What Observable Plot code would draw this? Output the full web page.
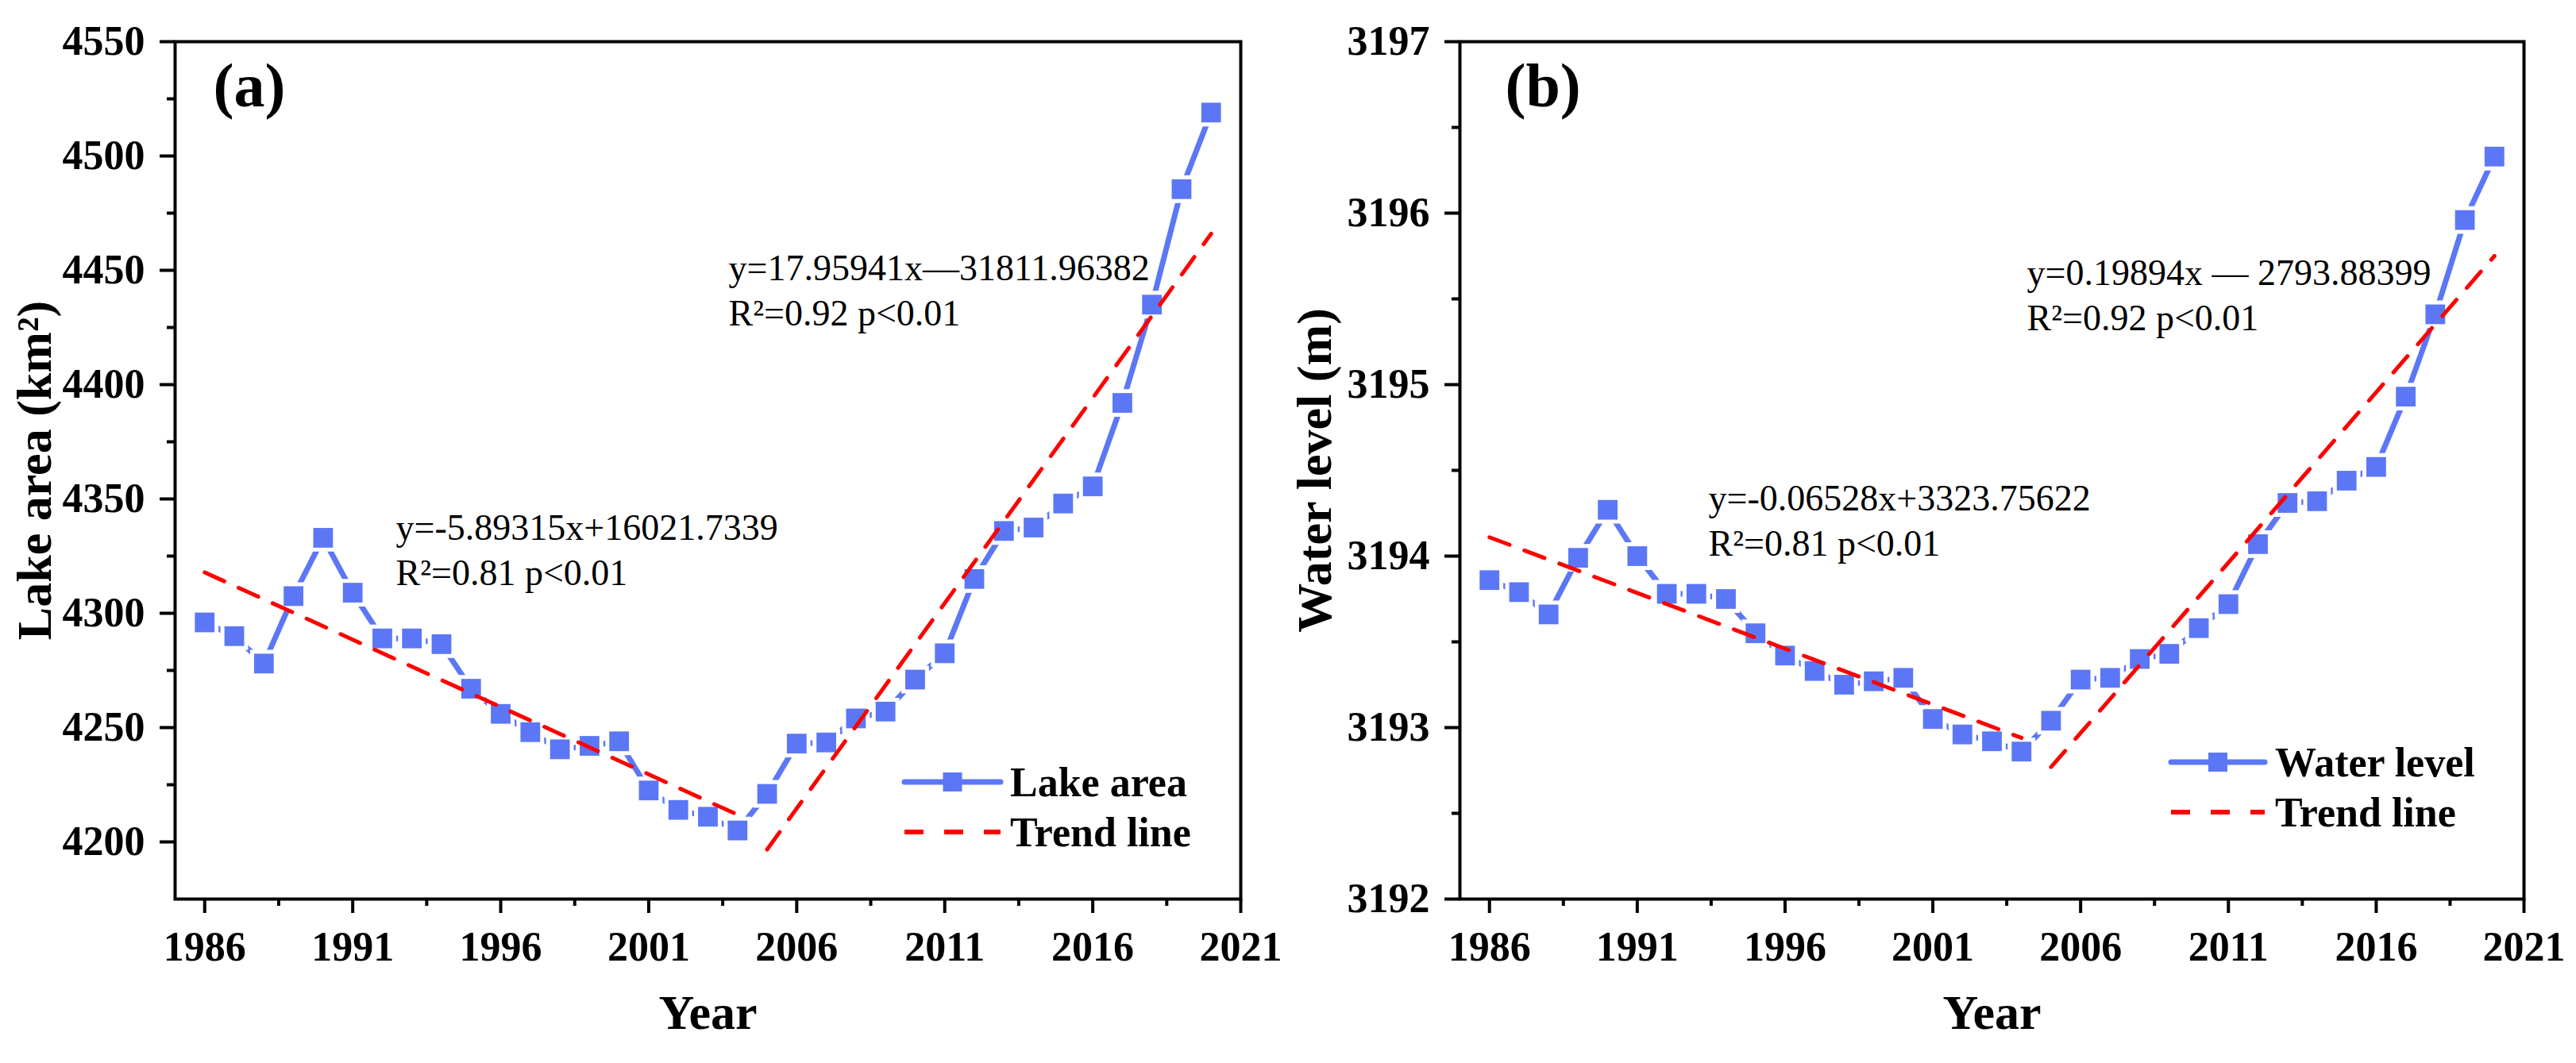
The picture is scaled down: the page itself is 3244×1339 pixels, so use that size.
<!DOCTYPE html>
<html>
<head>
<meta charset="utf-8">
<script src="https://cdn.jsdelivr.net/npm/d3@7"></script>
<script src="https://cdn.jsdelivr.net/npm/@observablehq/plot@0.6"></script>
<style>
  html, body { margin: 0; padding: 0; background: #fff; }
  #wrap { display: flex; width: 3244px; height: 1339px; }
  #wrap svg { display: block; }
</style>
</head>
<body>
<div id="wrap"></div>
<script>
// ---------------- data ----------------
const years = [1986, 1987, 1988, 1989, 1990, 1991, 1992, 1993, 1994, 1995,
               1996, 1997, 1998, 1999, 2000, 2001, 2002, 2003, 2004, 2005,
               2006, 2007, 2008, 2009, 2010, 2011, 2012, 2013, 2014, 2015,
               2016, 2017, 2018, 2019, 2020];

const lakeArea = [4296, 4290, 4278, 4307.5, 4333, 4309, 4289, 4289, 4286.5, 4267,
                  4256, 4248, 4240.5, 4242, 4244, 4222.5, 4214, 4211, 4205, 4221,
                  4243, 4243.5, 4254, 4257, 4271, 4282.5, 4315, 4336, 4337.5, 4348,
                  4355.5, 4392, 4435, 4485.5, 4519];

const waterLevel = [3193.86, 3193.79, 3193.66, 3193.99, 3194.27, 3194.00, 3193.78, 3193.78, 3193.75, 3193.55,
                    3193.42, 3193.33, 3193.25, 3193.27, 3193.29, 3193.05, 3192.96, 3192.92, 3192.86, 3193.04,
                    3193.28, 3193.29, 3193.40, 3193.43, 3193.58, 3193.72, 3194.07, 3194.31, 3194.32, 3194.44,
                    3194.52, 3194.93, 3195.41, 3195.96, 3196.33];

// trend line end points
const trendYears1 = [1986, 2004];
const trendYears2 = [2005, 2020];
const areaTrend1 = [4317.9, 4211.9];
const areaTrend2 = [4196.7, 4466.0];
const levelTrend1 = [3194.11, 3192.94];
const levelTrend2 = [3192.77, 3195.75];

// ticks
const xMajor = [1986, 1991, 1996, 2001, 2006, 2011, 2016, 2021];
const xMinor = [1988.5, 1993.5, 1998.5, 2003.5, 2008.5, 2013.5, 2018.5];
const areaMajor = [4200, 4250, 4300, 4350, 4400, 4450, 4500, 4550];
const areaMinor = [4225, 4275, 4325, 4375, 4425, 4475, 4525];
const levelMajor = [3192, 3193, 3194, 3195, 3196, 3197];
const levelMinor = [3192.5, 3193.5, 3194.5, 3195.5, 3196.5];

// texts
const areaEq = ["y=-5.89315x+16021.7339\nR²=0.81 p<0.01", "y=17.95941x\u201431811.96382\nR²=0.92 p<0.01"];
const levelEq = ["y=-0.06528x+3323.75622\nR²=0.81 p<0.01", "y=0.19894x \u2014 2793.88399\nR²=0.92 p<0.01"];

// ---------------- build ----------------
const blue = "#5c77f6";
const red = "#ff0000";
const FONT = "'Times New Roman', 'Liberation Serif', Times, serif";
const W = 1622, H = 1339, MT = 52, MB = 207;

const toRows = (xs, ys) => xs.map((x, i) => ({year: x, value: ys[i]}));

function panel(cfg) {
  const data = toRows(years, cfg.values);
  const t1 = toRows(trendYears1, cfg.trend1);
  const t2 = toRows(trendYears2, cfg.trend2);
  const chart = Plot.plot({
    width: W, height: H,
    marginLeft: cfg.ml, marginRight: cfg.mr, marginTop: MT, marginBottom: MB,
    style: {fontFamily: FONT, background: "white", overflow: "visible", color: "black"},
    x: {domain: [1985, 2021]},
    y: {domain: cfg.yDomain},
    marks: [
      Plot.line(data, {x: "year", y: "value", stroke: blue, strokeWidth: 7}),
      Plot.dot(data, {x: "year", y: "value", symbol: "square", r: 14, fill: blue,
                      stroke: "white", strokeWidth: 10, paintOrder: "stroke"}),
      Plot.line(t1, {x: "year", y: "value", stroke: red, strokeWidth: 5, strokeDasharray: "27,20"}),
      Plot.line(t2, {x: "year", y: "value", stroke: red, strokeWidth: 5, strokeDasharray: "27,20"}),
      Plot.frame({stroke: "black", strokeWidth: 4}),
      Plot.axisX({ticks: xMajor, tickSize: 18, tickPadding: 23, tickFormat: d => String(d),
                  fontSize: 52, fontWeight: "bold", strokeWidth: 4, label: null}),
      Plot.axisX({ticks: xMinor, tickSize: 9, tickFormat: () => "", strokeWidth: 4, label: null}),
      Plot.axisY({ticks: cfg.yMajor, tickSize: 19, tickPadding: 19, tickFormat: d => String(d),
                  fontSize: 52, fontWeight: "bold", strokeWidth: 4, label: null}),
      Plot.axisY({ticks: cfg.yMinor, tickSize: 10, tickFormat: () => "", strokeWidth: 4, label: null}),
      Plot.text([cfg.yTitle], {frameAnchor: "left", dx: cfg.titleDx, rotate: -90,
                               textAnchor: "middle", lineAnchor: "middle",
                               fontSize: 62, fontWeight: "bold"}),
      Plot.text(["Year"], {frameAnchor: "bottom", dy: 163, lineAnchor: "bottom", textAnchor: "middle",
                           fontSize: 62, fontWeight: "bold"}),
      Plot.text([cfg.tag], {frameAnchor: "top-left", dx: cfg.tagDx, dy: 26, lineAnchor: "top",
                            textAnchor: "start", fontSize: 78, fontWeight: "bold"}),
      Plot.text([cfg.eq[0]], {frameAnchor: "top-left", dx: cfg.eq1[0], dy: cfg.eq1[1], lineAnchor: "bottom",
                              textAnchor: "start", fontSize: 46, lineHeight: 1.22}),
      Plot.text([cfg.eq[1]], {frameAnchor: "top-left", dx: cfg.eq2[0], dy: cfg.eq2[1], lineAnchor: "bottom",
                              textAnchor: "start", fontSize: 46, lineHeight: 1.22})
    ]
  });

  // legend (pixel layout relative to the bottom-right corner of the frame)
  const fx = W - cfg.mr, fy = H - MB, L = cfg.legend;
  const g = d3.select(chart).append("g").attr("font-family", FONT).attr("text-anchor", "start");
  g.append("line").attr("x1", fx + L.x1).attr("x2", fx + L.x2)
    .attr("y1", fy + L.y).attr("y2", fy + L.y)
    .attr("stroke", blue).attr("stroke-width", 7).attr("stroke-linecap", "round");
  g.append("rect").attr("x", fx + (L.x1 + L.x2) / 2 - 12).attr("y", fy + L.y - 12)
    .attr("width", 24).attr("height", 24).attr("fill", blue);
  g.append("line").attr("x1", fx + L.x1).attr("x2", fx + L.x2)
    .attr("y1", fy + L.y + 63).attr("y2", fy + L.y + 63)
    .attr("stroke", red).attr("stroke-width", 6).attr("stroke-dasharray", "24,26");
  g.append("text").attr("x", fx + L.tx).attr("y", fy + L.y + 18)
    .attr("font-size", 52).attr("font-weight", "bold").attr("fill", "black").text(cfg.seriesName);
  g.append("text").attr("x", fx + L.tx).attr("y", fy + L.y + 81)
    .attr("font-size", 52).attr("font-weight", "bold").attr("fill", "black").text("Trend line");
  return chart;
}

const wrap = document.getElementById("wrap");
wrap.append(panel({
  values: lakeArea, trend1: areaTrend1, trend2: areaTrend2,
  yDomain: [4175, 4550], yMajor: areaMajor, yMinor: areaMinor,
  yTitle: "Lake area (km²)", titleDx: -176, tag: "(a)", tagDx: 48,
  eq: areaEq, eq1: [278, 684], eq2: [697, 357],
  ml: 220, mr: 60, seriesName: "Lake area",
  legend: {x1: -423, x2: -302, y: -147, tx: -290}
}));
wrap.append(panel({
  values: waterLevel, trend1: levelTrend1, trend2: levelTrend2,
  yDomain: [3192, 3197], yMajor: levelMajor, yMinor: levelMinor,
  yTitle: "Water level (m)", titleDx: -182, tag: "(b)", tagDx: 57,
  eq: levelEq, eq1: [313, 647], eq2: [714, 363],
  ml: 216, mr: 66, seriesName: "Water level",
  legend: {x1: -444, x2: -326, y: -172, tx: -313}
}));
</script>
</body>
</html>
